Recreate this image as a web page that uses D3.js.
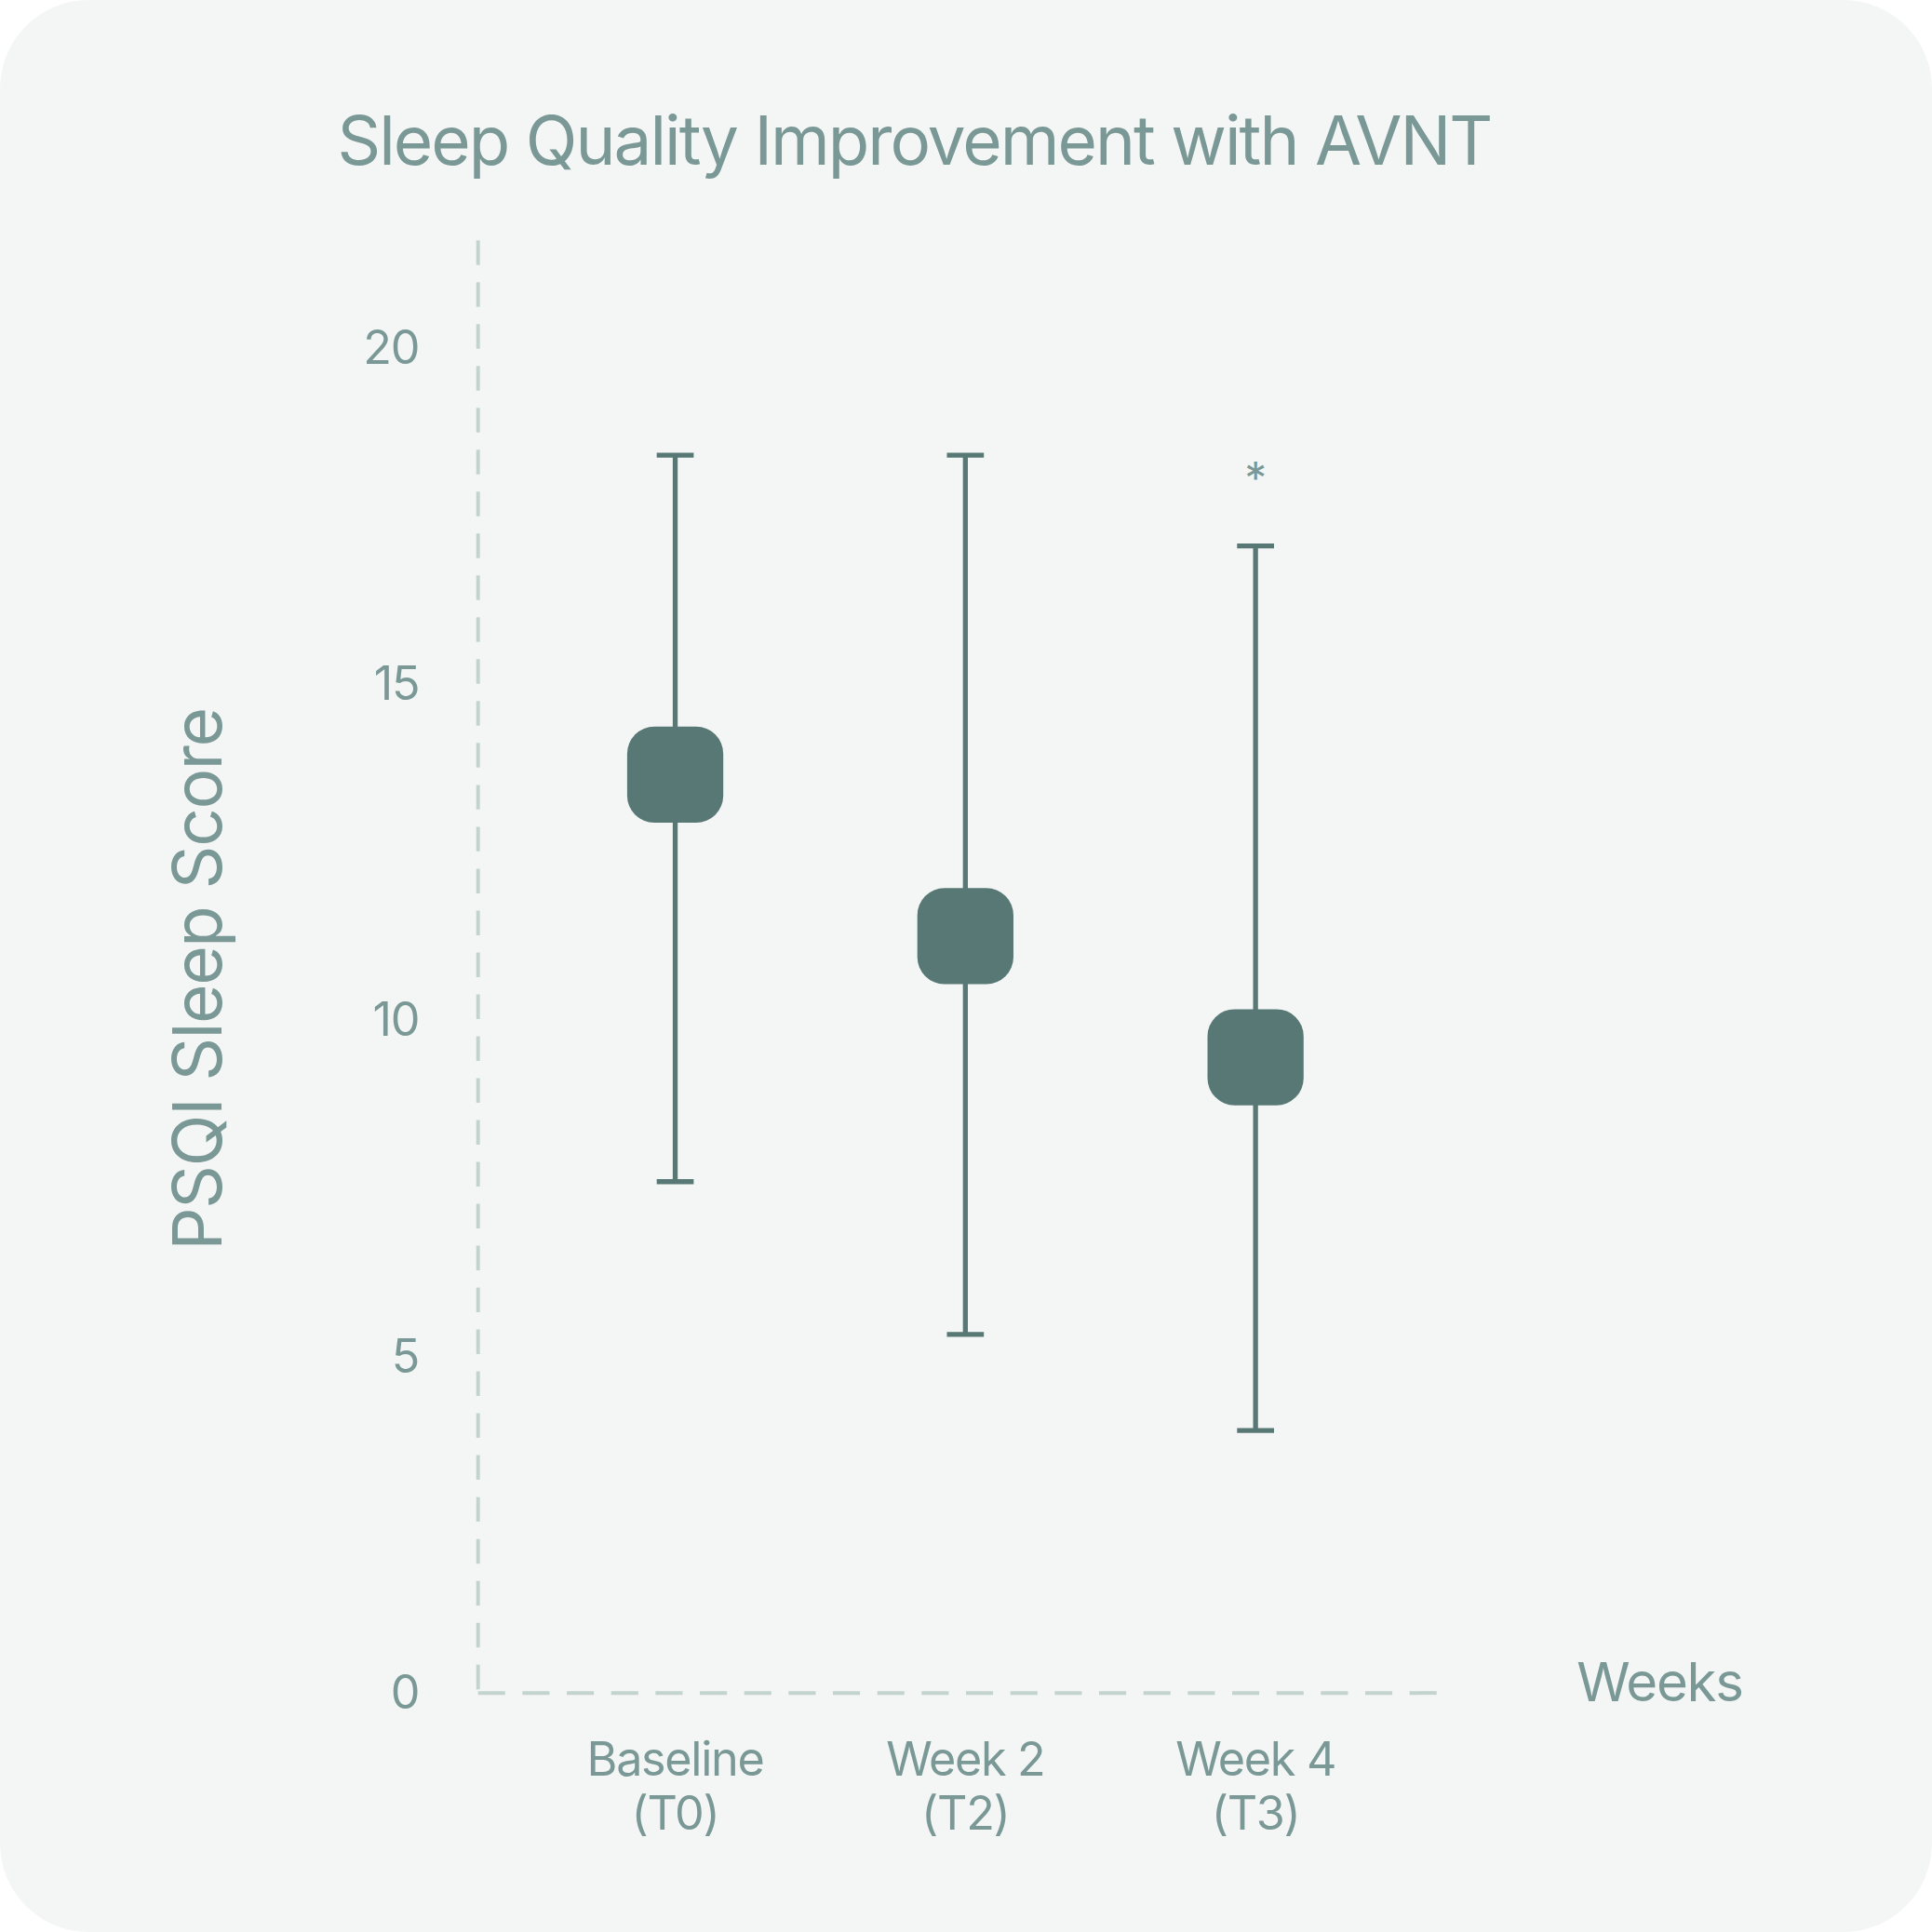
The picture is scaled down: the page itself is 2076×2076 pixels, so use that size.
<!DOCTYPE html><html><head><meta charset="utf-8"><script src="https://cdn.jsdelivr.net/npm/d3@7"></script>
<style>html,body{margin:0;padding:0;background:#fff}</style></head><body>
<script>
const categories=["Baseline|(T0)","Week 2|(T2)","Week 4|(T3)"];
const means=[13.65,11.25,9.45];
const upper=[18.4,18.4,17.05];
const lower=[7.6,5.33,3.9];
const significance=["","","*"];
const yTicks=[0,5,10,15,20];
const W=1568;
const svg=d3.select("body").append("svg").attr("width",2076).attr("height",2076).attr("viewBox",`0 0 ${W} ${W}`);
const font="Inter, 'Liberation Sans', sans-serif";
const txt="#7a9996", mark="#587875", axisC="#c3d4ce";
svg.append("rect").attr("width",W).attr("height",W).attr("rx",72).attr("fill","#f4f6f5");
const y=d3.scaleLinear().domain([0,20]).range([1374,282]);
const x=d3.scalePoint().domain(categories).range([548,1019]);
svg.append("line").attr("x1",388).attr("x2",388).attr("y1",195).attr("y2",1374).attr("stroke",axisC).attr("stroke-width",3).attr("stroke-dasharray","20,14");
svg.append("line").attr("x1",388).attr("x2",1175).attr("y1",1374).attr("y2",1374).attr("stroke",axisC).attr("stroke-width",3).attr("stroke-dasharray","22,14");
svg.selectAll(".yt").data(yTicks).join("text").attr("x",340).attr("y",d=>y(d)+13).attr("text-anchor","end").attr("font-family",font).attr("font-size",38).attr("letter-spacing",-1).attr("fill",txt).text(d=>d);
categories.forEach((c,i)=>{
  const cx=x(c);
  const g=svg.append("g");
  g.append("line").attr("x1",cx).attr("x2",cx).attr("y1",y(upper[i])).attr("y2",y(lower[i])).attr("stroke",mark).attr("stroke-width",4);
  [upper[i],lower[i]].forEach(v=>g.append("line").attr("x1",cx-15).attr("x2",cx+15).attr("y1",y(v)).attr("y2",y(v)).attr("stroke",mark).attr("stroke-width",4));
  g.append("rect").attr("x",cx-39).attr("y",y(means[i])-39).attr("width",78).attr("height",78).attr("rx",22).attr("fill",mark);
  const parts=c.split("|");
  parts.forEach((p,j)=>svg.append("text").attr("x",cx).attr("y",1441+j*44).attr("text-anchor","middle").attr("font-family",font).attr("font-size",38).attr("letter-spacing",-1).attr("fill",txt).text(p));
  if(significance[i]) svg.append("text").attr("x",cx).attr("y",y(upper[i])-42).attr("text-anchor","middle").attr("font-family",font).attr("font-size",36).attr("fill",txt).text(significance[i]);
});
svg.append("text").attr("x",1347).attr("y",1381).attr("text-anchor","middle").attr("font-family",font).attr("font-size",44).attr("letter-spacing",-1).attr("fill",txt).text("Weeks");
svg.append("text").attr("transform","translate(180,795) rotate(-90)").attr("text-anchor","middle").attr("font-family",font).attr("font-size",55).attr("letter-spacing",-1).attr("fill",txt).text("PSQI Sleep Score");
svg.append("text").attr("x",742).attr("y",134).attr("text-anchor","middle").attr("font-family",font).attr("font-size",55).attr("letter-spacing",-1.5).attr("fill",txt).text("Sleep Quality Improvement with AVNT");
</script></body></html>
